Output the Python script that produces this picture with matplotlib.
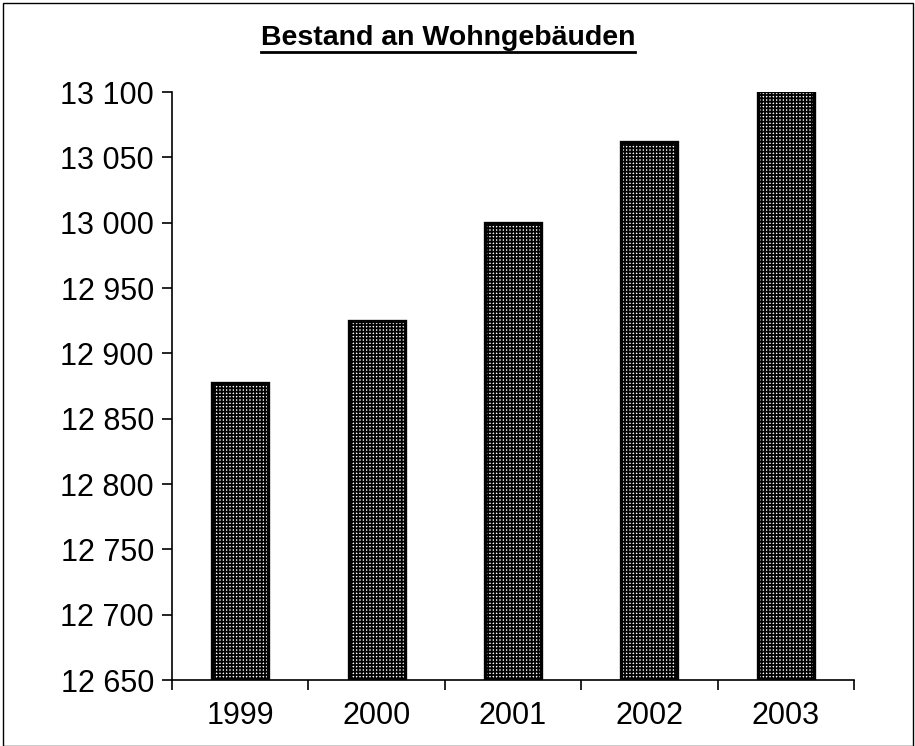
import matplotlib
matplotlib.use("Agg")
import matplotlib.pyplot as plt
from matplotlib.patches import Rectangle
from matplotlib.lines import Line2D
from matplotlib.ticker import FuncFormatter, FixedLocator
from matplotlib import font_manager

years = ["1999", "2000", "2001", "2002", "2003"]
values = [12877, 12925, 13000, 13062, 13101]
y_ticks = list(range(12650, 13101, 50))
title = "Bestand an Wohngebäuden"

plt.rcParams['font.family'] = ['Liberation Sans', 'DejaVu Sans']
plt.rcParams['hatch.linewidth'] = 1.3

names = {f.name for f in font_manager.fontManager.ttflist}
narrow = 'Liberation Sans Narrow' in names

fig = plt.figure(figsize=(9.15, 7.46), dpi=100)
ax = fig.add_axes([172/915, 1-680/746, (854-172)/915, (680-92)/746])

x = list(range(len(years)))
ax.bar(x, [v - 12650 for v in values], bottom=12650, width=0.41,
       facecolor='white', edgecolor='black', hatch='+++++', linewidth=2.4, zorder=2)

ax.set_xlim(-0.5, len(years) - 0.5)
ax.set_ylim(12650, 13100)
ax.set_yticks(y_ticks)
ax.yaxis.set_major_formatter(FuncFormatter(lambda v, p: f"{int(v):,}".replace(",", " ")))
ax.set_xticks(x)
ax.set_xticklabels(years)
ax.xaxis.set_minor_locator(FixedLocator([i - 0.5 for i in range(len(years) + 1)]))
ax.tick_params(axis='x', which='major', length=0, pad=15, labelsize=22)
ax.tick_params(axis='x', which='minor', length=7, width=1.2, direction='out')
ax.tick_params(axis='y', which='major', length=7, width=1.2, direction='out', pad=6, labelsize=22)

for s in ['top', 'right']:
    ax.spines[s].set_visible(False)
for s in ['left', 'bottom']:
    ax.spines[s].set_linewidth(1.2)

if narrow:
    t = fig.text(448/915, 1-37/746, title, ha='center', va='center', fontsize=24,
                 fontweight='bold', family=['Liberation Sans Narrow', 'Liberation Sans'])
else:
    t = fig.text(448/915, 1-38/746, title, ha='center', va='center', fontsize=20.5,
                 fontweight='bold')
fig.canvas.draw()
bb = t.get_window_extent()
fig.add_artist(Line2D([bb.x0/915, bb.x1/915], [(bb.y0-1)/746, (bb.y0-1)/746],
                      color='black', linewidth=2.0, transform=fig.transFigure))

fig.add_artist(Rectangle((3/915, 0.0), 910/915, 1-3/746, fill=False,
                         edgecolor='black', linewidth=1.0, transform=fig.transFigure))

fig.savefig("out.png", dpi=100)
